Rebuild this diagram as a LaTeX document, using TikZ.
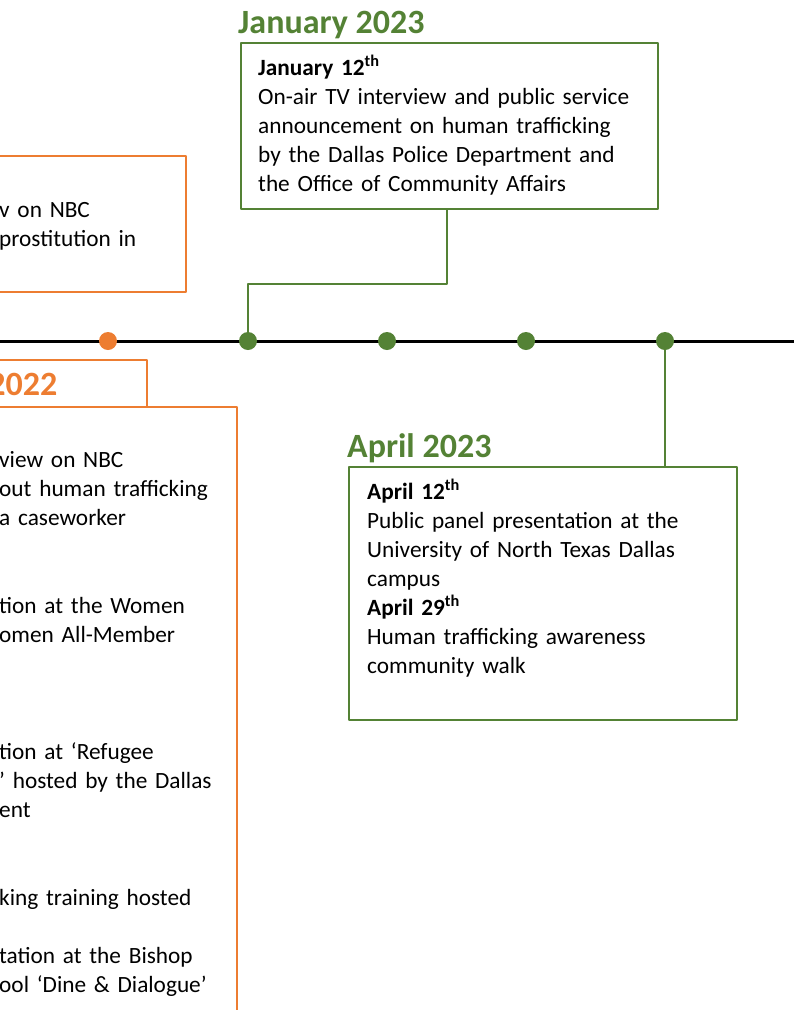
\documentclass[tikz,border=0pt]{standalone}
\usepackage{fontspec}
\setmainfont{Carlito}
\definecolor{tlorange}{HTML}{ED7D31}
\definecolor{tlgreen}{HTML}{548235}
\tikzset{
  ebox/.style={draw, line width=2pt, rectangle, inner sep=0pt},
  etext/.style={anchor=north west, inner sep=0pt, text width=420pt, align=left,
    font=\fontsize{23.3}{29}\selectfont, execute at begin node=\strut},
  etitle/.style={anchor=base west, inner sep=0pt, font=\fontsize{34}{40}\selectfont\bfseries},
  dot/.style={circle, inner sep=0pt, minimum size=18pt},
}
\begin{document}
\begin{tikzpicture}[x=1pt, y=-1pt, line join=round]
\useasboundingbox (0,0) rectangle (794,1010);
% timeline
\path
  (-5,341) coordinate (L)
  (800,341) coordinate (R)
  ;
\draw[line width=3pt] (L)--(R);
\foreach \d/\x/\c in {o1/108/tlorange, g1/248/tlgreen, g2/387/tlgreen, g3/526/tlgreen, g4/665/tlgreen}
  \node[dot, fill=\c] (\d) at (\x,341) {};

% orange boxes, cut by the page edge
\node[ebox, draw=tlorange, minimum width=216, minimum height=136] (nbcbox) at (78,224) {};
\node[etext] (nbctext) at (-1,196.7) {v on NBC\\prostitution in};

\node[ebox, draw=tlorange, minimum width=177, minimum height=47] (yearbox) at (58.5,383.5) {};
\node[etitle, anchor=base east, text=tlorange] (yeartitle) at (57.5,395) {2022};
\node[ebox, draw=tlorange, minimum width=267, minimum height=633] (yearlist) at (103.5,723.5) {};
\node[etext, font=\fontsize{23.3}{29.2}\selectfont] (yeartext) at (-1,446.7) {view on NBC\\
out human trafficking\\
a caseworker\\
~\\
~\\
tion at the Women\\
omen All-Member\\
~\\
~\\
~\\
tion at ‘Refugee\\
’ hosted by the Dallas\\
ent\\
~\\
~\\
king training hosted\\
~\\
tation at the Bishop\\
ool ‘Dine \& Dialogue’};

% January 2023
\node[etitle, text=tlgreen] (jantitle) at (238,33) {January 2023};
\node[ebox, draw=tlgreen, minimum width=417, minimum height=166] (janbox) at (449.5,126) {};
\node[etext] (jantext) at (258,54.7) {\textbf{January 12\textsuperscript{th}}\\
On-air TV interview and public service\\
announcement on human trafficking\\
by the Dallas Police Department and\\
the Office of Community Affairs};
\draw[tlgreen, line width=2pt] ([xshift=-2.5pt]janbox.south) -- ++(0,74) -| (g1);

% April 2023
\node[etitle, text=tlgreen] (aprtitle) at (347,457) {April 2023};
\node[ebox, draw=tlgreen, minimum width=388, minimum height=253] (aprbox) at (543,593.5) {};
\node[etext] (aprtext) at (367,478.7) {\textbf{April 12\textsuperscript{th}}\\
Public panel presentation at the\\
University of North Texas Dallas\\
campus\\
\textbf{April 29\textsuperscript{th}}\\
Human trafficking awareness\\
community walk};
\draw[tlgreen, line width=2pt] (g4) -- (g4 |- aprbox.north);
\end{tikzpicture}
\end{document}
